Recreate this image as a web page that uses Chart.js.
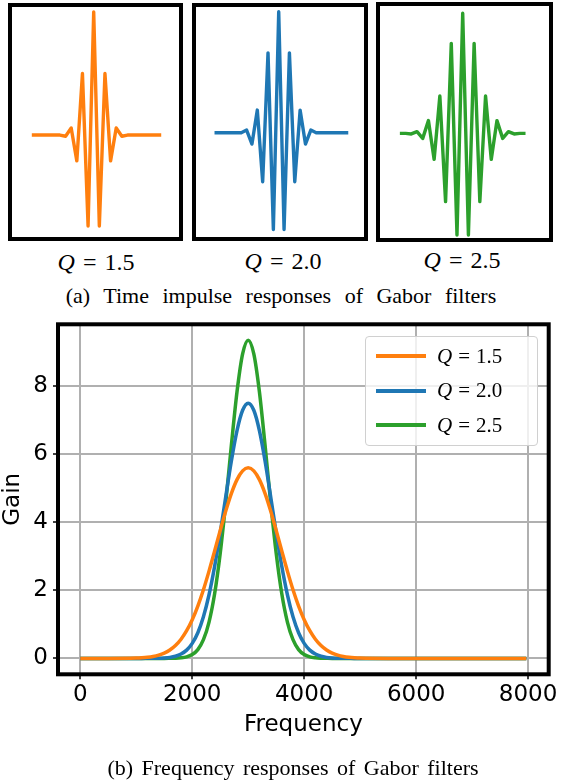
<!DOCTYPE html>
<html>
<head>
<meta charset="utf-8">
<script src="https://cdn.jsdelivr.net/npm/chart.js@4.4.1/dist/chart.umd.min.js"></script>
<style>
  body { margin: 0; background: #fff; width: 562px; height: 783px; position: relative; overflow: hidden; }
  .box { position: absolute; border: 4px solid #000; box-sizing: border-box; }
  .box canvas { display: block; }
  .q { position: absolute; width: 140px; text-align: center; font-family: "Liberation Serif", serif; font-size: 24px; line-height: 24px; color: #000; }
  .eq { margin: 0 8px; }
  .cap { position: absolute; left: 0; width: 562px; text-align: center; font-family: "Liberation Serif", serif; font-size: 22px; line-height: 22px; word-spacing: 3px; color: #000; }
  #main { position: absolute; left: 0; top: 312px; }
  #legend { position: absolute; left: 365px; top: 336px; width: 173px; height: 110px; box-sizing: border-box;
            border: 1px solid #d0d0d0; border-radius: 4px; background: rgba(255,255,255,0.8); }
  .row { position: absolute; left: 0; height: 30px; display: flex; align-items: center; }
  .row .ln { display: inline-block; width: 50px; height: 4px; margin-left: 10px; }
  .row .tx { margin-left: 11px; font-family: "Liberation Serif", serif; font-size: 21px; }
  .row .eq { margin: 0 6px; }
</style>
</head>
<body>

<div class="box" style="left:8px; top:3px; width:175px; height:238px;"><canvas id="imp15" width="167" height="230"></canvas></div>
<div class="box" style="left:192px; top:3px; width:176px; height:238px;"><canvas id="imp20" width="168" height="230"></canvas></div>
<div class="box" style="left:376px; top:2px; width:177px; height:240px;"><canvas id="imp25" width="169" height="232"></canvas></div>

<div class="q" id="lab0" style="left:26px; top:250px;"></div>
<div class="q" id="lab1" style="left:213px; top:249px;"></div>
<div class="q" id="lab2" style="left:392px; top:248px;"></div>

<div class="cap" style="top:285px; word-spacing: 8px;">(a) Time impulse responses of Gabor filters</div>

<canvas id="main" width="562" height="448"></canvas>
<div id="legend"></div>

<div class="cap" style="top:757px; left:12px;">(b) Frequency responses of Gabor filters</div>

<script>
/* ---------- DATA ---------- */
const qValues = ["1.5", "2.0", "2.5"];
const colors = ["#ff7f0e", "#1f77b4", "#2ca02c"];

// time impulse responses (sample index, normalised amplitude)
const q15Index = [-11,-10,-9,-8,-7,-6,-5,-4,-3,-2,-1,0,1,2,3,4,5,6,7,8,9,10,11,12];
const q15Amp   = [0,0,0,0,0,0,-0.01,0.057,-0.21,0.50,-0.74,1.0,-0.74,0.50,-0.21,0.057,-0.01,0,0,0,0,0,0,0];

const q20Index = [-12,-11,-10,-9,-8,-7,-6,-5,-4,-3,-2,-1,0,1,2,3,4,5,6,7,8,9,10,11,12,13];
const q20Amp   = [0,0,0,0,0,0,0.022,-0.094,0.187,-0.405,0.66,-0.80,1.0,-0.80,0.66,-0.405,0.187,-0.094,0.022,0,0,0,0,0,0,0];

const q25Index = [-11,-10,-9,-8,-7,-6,-5,-4,-3,-2,-1,0,1,2,3,4,5,6,7,8,9,10,11];
const q25Amp   = [0,0,-0.005,0.014,-0.042,0.106,-0.217,0.311,-0.569,0.75,-0.847,1.0,-0.847,0.75,-0.569,0.311,-0.217,0.106,-0.042,0.014,-0.005,0,0];

// frequency responses
const freqHz = [0, 500, 1000, 1100, 1200, 1300, 1400, 1500, 1600, 1700, 1800, 1900,
  2000, 2100, 2200, 2300, 2400, 2500, 2600, 2700, 2800, 2900, 3000, 3100, 3200, 3300,
  3400, 3500, 3600, 3700, 3800, 3900, 4000, 4100, 4200, 4300, 4400, 4500, 4600, 4700,
  4800, 4900, 5000, 5500, 6000, 7000, 7968];

const gainQ15 = [0, 0, 0.01, 0.018, 0.032, 0.056, 0.095, 0.155, 0.246, 0.378, 0.564, 0.813,
  1.137, 1.539, 2.018, 2.564, 3.155, 3.759, 4.339, 4.851, 5.254, 5.511, 5.60, 5.511, 5.254, 4.851,
  4.339, 3.759, 3.155, 2.564, 2.018, 1.539, 1.137, 0.813, 0.564, 0.378, 0.246, 0.155, 0.095, 0.056,
  0.032, 0.018, 0.01, 0, 0, 0, 0];

const gainQ20 = [0, 0, 0, 0, 0.001, 0.002, 0.005, 0.013, 0.029, 0.062, 0.127, 0.243,
  0.44, 0.755, 1.223, 1.87, 2.703, 3.692, 4.766, 5.811, 6.696, 7.291, 7.5, 7.291, 6.696, 5.811,
  4.766, 3.692, 2.703, 1.87, 1.223, 0.755, 0.44, 0.243, 0.127, 0.062, 0.029, 0.013, 0.005, 0.002,
  0.001, 0, 0, 0, 0, 0, 0];

const gainQ25 = [0, 0, 0, 0, 0, 0, 0, 0, 0.002, 0.005, 0.016, 0.044,
  0.112, 0.259, 0.549, 1.068, 1.898, 3.09, 4.603, 6.277, 7.833, 8.945, 9.35, 8.945, 7.833, 6.277,
  4.603, 3.09, 1.898, 1.068, 0.549, 0.259, 0.112, 0.044, 0.016, 0.005, 0.002, 0, 0, 0,
  0, 0, 0, 0, 0, 0, 0];

const freqTicks = [0, 2000, 4000, 6000, 8000];
const gainTicks = [0, 2, 4, 6, 8];

/* ---------- LABELS ---------- */
const qHtml = q => '<i>Q</i><span class="eq">=</span>' + q;
qValues.forEach((q, i) => { document.getElementById("lab" + i).innerHTML = qHtml(q); });

const legend = document.getElementById("legend");
qValues.forEach((q, i) => {
  const row = document.createElement("div");
  row.className = "row";
  row.style.top = (4 + i * 34.5) + "px";
  row.innerHTML = '<span class="ln" style="background:' + colors[i] + '"></span><span class="tx">' + qHtml(q) + '</span>';
  legend.appendChild(row);
});

/* ---------- IMPULSE RESPONSE CHARTS ---------- */
function impulseChart(id, idx, amp, color, xr, yr) {
  return new Chart(document.getElementById(id), {
    type: "line",
    data: {
      datasets: [{
        data: idx.map((x, i) => ({ x: x, y: amp[i] })),
        borderColor: color, borderWidth: 3.4, pointRadius: 0, tension: 0,
        borderJoinStyle: "round", clip: false
      }]
    },
    options: {
      responsive: false, animation: false,
      layout: { padding: 0 },
      plugins: { legend: { display: false }, tooltip: { enabled: false } },
      scales: {
        x: { type: "linear", display: false, min: xr[0], max: xr[1] },
        y: { display: false, min: yr[0], max: yr[1] }
      }
    }
  });
}

impulseChart("imp15", q15Index, q15Amp, colors[0], [-14.52, 15.16], [-0.829, 1.041]);
impulseChart("imp20", q20Index, q20Amp, colors[1], [-15.46, 15.94], [-0.862, 1.039]);
impulseChart("imp25", q25Index, q25Amp, colors[2], [-14.48, 15.11], [-0.872, 1.061]);

/* ---------- FREQUENCY RESPONSE CHART ---------- */
const axisFont = { family: "DejaVu Sans", size: 23 };
const gains = [gainQ15, gainQ20, gainQ25];

const frame = {
  id: "frame",
  afterDraw(chart) {
    const { ctx, chartArea: a } = chart;
    ctx.save();
    ctx.strokeStyle = "#000";
    ctx.lineWidth = 4;
    ctx.strokeRect(a.left, a.top, a.right - a.left, a.bottom - a.top);
    ctx.restore();
  }
};

new Chart(document.getElementById("main"), {
  type: "line",
  data: {
    datasets: gains.map((g, i) => ({
      label: "Q=" + qValues[i],
      data: freqHz.map((f, j) => ({ x: f, y: g[j] })),
      borderColor: colors[i], borderWidth: 3.5, pointRadius: 0,
      cubicInterpolationMode: "monotone", fill: false
    }))
  },
  options: {
    responsive: false, animation: false,
    layout: { padding: { left: 0, top: 12.3, right: 13.3, bottom: 0 } },
    plugins: { legend: { display: false }, tooltip: { enabled: false } },
    scales: {
      x: {
        type: "linear", min: -398, max: 8368,
        afterBuildTicks: s => { s.ticks = freqTicks.map(v => ({ value: v })); },
        afterFit: s => { s.height = 85.7; s.paddingLeft = 0; s.paddingRight = 0; },
        grid: { color: "#b0b0b0", lineWidth: 2, tickColor: "#000", tickLength: 5, tickWidth: 1.5 },
        border: { display: false },
        ticks: { font: axisFont, color: "#000", padding: 2, maxRotation: 0, autoSkip: false, callback: v => String(v) },
        title: { display: true, text: "Frequency", font: axisFont, color: "#000", padding: { top: 0, bottom: 21 } }
      },
      y: {
        min: -0.4675, max: 9.8175,
        afterBuildTicks: s => { s.ticks = gainTicks.map(v => ({ value: v })); },
        afterFit: s => { s.width = 58; s.paddingTop = 0; s.paddingBottom = 0; },
        grid: { color: "#b0b0b0", lineWidth: 2, tickColor: "#000", tickLength: 5, tickWidth: 1.5 },
        border: { display: false },
        ticks: { font: axisFont, color: "#000", padding: 5, callback: v => String(v) },
        title: { display: true, text: "Gain", font: { family: "DejaVu Sans", size: 23, lineHeight: 1.15 }, color: "#000", padding: 0 }
      }
    }
  },
  plugins: [frame]
});
</script>
</body>
</html>
